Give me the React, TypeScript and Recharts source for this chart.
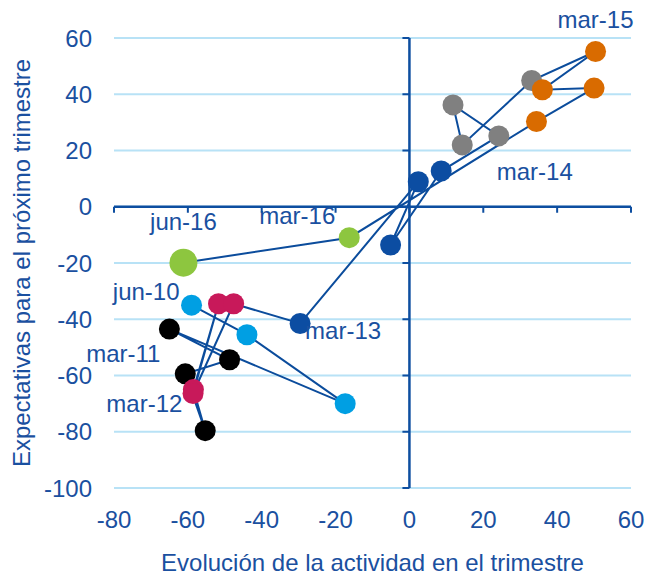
import React from 'react';
import { ScatterChart, Scatter, XAxis, YAxis, CartesianGrid, ReferenceLine } from 'recharts';

// ---- data (chronological path) ----
const periods = [
  'jun-10', 'sep-10', 'dic-10',
  'mar-11', 'jun-11', 'sep-11', 'dic-11',
  'mar-12', 'jun-12', 'sep-12', 'dic-12',
  'mar-13', 'jun-13', 'sep-13', 'dic-13',
  'mar-14', 'jun-14', 'sep-14', 'dic-14',
  'mar-15', 'jun-15', 'sep-15', 'dic-15',
  'mar-16', 'jun-16',
];
const activity = [
  -59, -44, -17.4,
  -65, -48.7, -60.7, -55.3,
  -58.5, -51.7, -58.6, -47.6,
  -29.6, 2.4, -5.1, 8.6,
  24.2, 11.8, 14.3, 33.1,
  50.4, 36, 50, 34.4,
  -16.3, -61.2,
];
const expectations = [
  -35, -45.5, -70,
  -43.5, -54.4, -59.4, -79.6,
  -65, -34.5, -66.4, -34.5,
  -41.5, 8.9, -13.6, 12.7,
  25.2, 36.2, 22, 44.9,
  55.2, 41.6, 42.2, 30.3,
  -11, -19.9,
];
const labelledPeriods = ['jun-10', 'mar-11', 'mar-12', 'mar-13', 'mar-14', 'mar-15', 'mar-16', 'jun-16'];
const xTicks = [-80, -60, -40, -20, 0, 20, 40, 60];
const yTicks = [-100, -80, -60, -40, -20, 0, 20, 40, 60];
const xTitle = 'Evolución de la actividad en el trimestre';
const yTitle = 'Expectativas para el próximo trimestre';

// ---- styles ----
const YEAR_COLORS: Record<string, string> = {
  '10': '#009fe3',
  '11': '#000000',
  '12': '#c8195a',
  '13': '#0c4da2',
  '14': '#808080',
  '15': '#d96b00',
  '16': '#8dc63f',
};
const BIG_POINTS = ['jun-16'];
const LABEL_OFFSETS: Record<string, { dx: number; dy: number; anchor: string }> = {
  'jun-10': { dx: -12, dy: -5, anchor: 'end' },
  'mar-11': { dx: -9, dy: 33, anchor: 'end' },
  'mar-12': { dx: -11, dy: 22, anchor: 'end' },
  'mar-13': { dx: 5, dy: 16, anchor: 'start' },
  'mar-14': { dx: -2, dy: 44, anchor: 'start' },
  'mar-15': { dx: 0, dy: -24, anchor: 'middle' },
  'mar-16': { dx: -14, dy: -14, anchor: 'end' },
  'jun-16': { dx: 0, dy: -33, anchor: 'middle' },
};

const W = 648;
const H = 577;
const M_TOP = 38;
const M_RIGHT = 17;
const Y_AXIS_W = 114;
const X_AXIS_H = 89;
const PLOT_LEFT = Y_AXIS_W;
const PLOT_RIGHT = W - M_RIGHT;
const PLOT_TOP = M_TOP;
const PLOT_BOTTOM = H - X_AXIS_H;
const X_MIN = -80, X_MAX = 60, Y_MIN = -100, Y_MAX = 60;
const ZERO_X = PLOT_LEFT + ((PLOT_RIGHT - PLOT_LEFT) * (0 - X_MIN)) / (X_MAX - X_MIN);
const ZERO_Y = PLOT_TOP + ((PLOT_BOTTOM - PLOT_TOP) * (Y_MAX - 0)) / (Y_MAX - Y_MIN);

const FONT = "'Liberation Sans', Arial, sans-serif";
const TEXT = '#1a50a0';
const AXIS = '#0d4ea0';
const PATH = '#0b4c9c';
const GRID = '#b8e2f6';

const data = periods.map((p, i) => ({ period: p, x: activity[i], y: expectations[i] }));

const colorOf = (period: string) => YEAR_COLORS[period.slice(-2)];

const XTick = (props: any) => {
  const { x, payload } = props;
  return (
    <g>
      <text x={x} y={PLOT_BOTTOM + 40} textAnchor="middle" fontFamily={FONT} fontSize={24} fill={TEXT}>
        {payload.value}
      </text>
      <line x1={x} x2={x} y1={ZERO_Y} y2={ZERO_Y + 6} stroke={AXIS} strokeWidth={2} />
    </g>
  );
};

const YTick = (props: any) => {
  const { y, payload } = props;
  return (
    <g>
      <text x={PLOT_LEFT - 22} y={y + 8.5} textAnchor="end" fontFamily={FONT} fontSize={24} fill={TEXT}>
        {payload.value}
      </text>
      <line x1={ZERO_X - 7} x2={ZERO_X} y1={y} y2={y} stroke={AXIS} strokeWidth={2} />
    </g>
  );
};

const PointShape = (props: any) => {
  const { cx, cy, payload } = props;
  const r = BIG_POINTS.includes(payload.period) ? 14 : 10.5;
  return <circle cx={cx} cy={cy} r={r} fill={colorOf(payload.period)} />;
};

const LabelShape = (props: any) => {
  const { cx, cy, payload } = props;
  if (!labelledPeriods.includes(payload.period)) return <g />;
  const o = LABEL_OFFSETS[payload.period];
  return (
    <text x={cx + o.dx} y={cy + o.dy} textAnchor={o.anchor as any} fontFamily={FONT} fontSize={24} fill={TEXT}>
      {payload.period}
    </text>
  );
};

export default function App() {
  return (
    <div style={{ position: 'absolute', left: 0, top: 0, width: W, height: H, background: '#ffffff' }}>
      <ScatterChart width={W} height={H} margin={{ top: M_TOP, right: M_RIGHT, bottom: 0, left: 0 }}>
        <CartesianGrid vertical={false} stroke={GRID} strokeWidth={2} />
        <XAxis
          type="number"
          dataKey="x"
          domain={[X_MIN, X_MAX]}
          ticks={xTicks}
          interval={0}
          height={X_AXIS_H}
          axisLine={false}
          tickLine={false}
          tick={<XTick />}
        />
        <YAxis
          type="number"
          dataKey="y"
          domain={[Y_MIN, Y_MAX]}
          ticks={yTicks}
          interval={0}
          width={Y_AXIS_W}
          axisLine={false}
          tickLine={false}
          tick={<YTick />}
        />
        <ReferenceLine x={0} stroke={AXIS} strokeWidth={2.5} />
        <ReferenceLine y={0} stroke={AXIS} strokeWidth={2.5} />
        <Scatter
          data={data}
          isAnimationActive={false}
          line={{ stroke: PATH, strokeWidth: 2 }}
          lineType="joint"
          fill={PATH}
          shape={<PointShape />}
        />
        <Scatter data={data} isAnimationActive={false} shape={<LabelShape />} />
        <text x={(PLOT_LEFT + PLOT_RIGHT) / 2} y={571} textAnchor="middle" fontFamily={FONT} fontSize={24} fill={TEXT}>
          {xTitle}
        </text>
        <text
          x={30}
          y={(PLOT_TOP + PLOT_BOTTOM) / 2}
          transform={`rotate(-90, 30, ${(PLOT_TOP + PLOT_BOTTOM) / 2})`}
          textAnchor="middle"
          fontFamily={FONT}
          fontSize={24}
          fill={TEXT}
        >
          {yTitle}
        </text>
      </ScatterChart>
    </div>
  );
}
